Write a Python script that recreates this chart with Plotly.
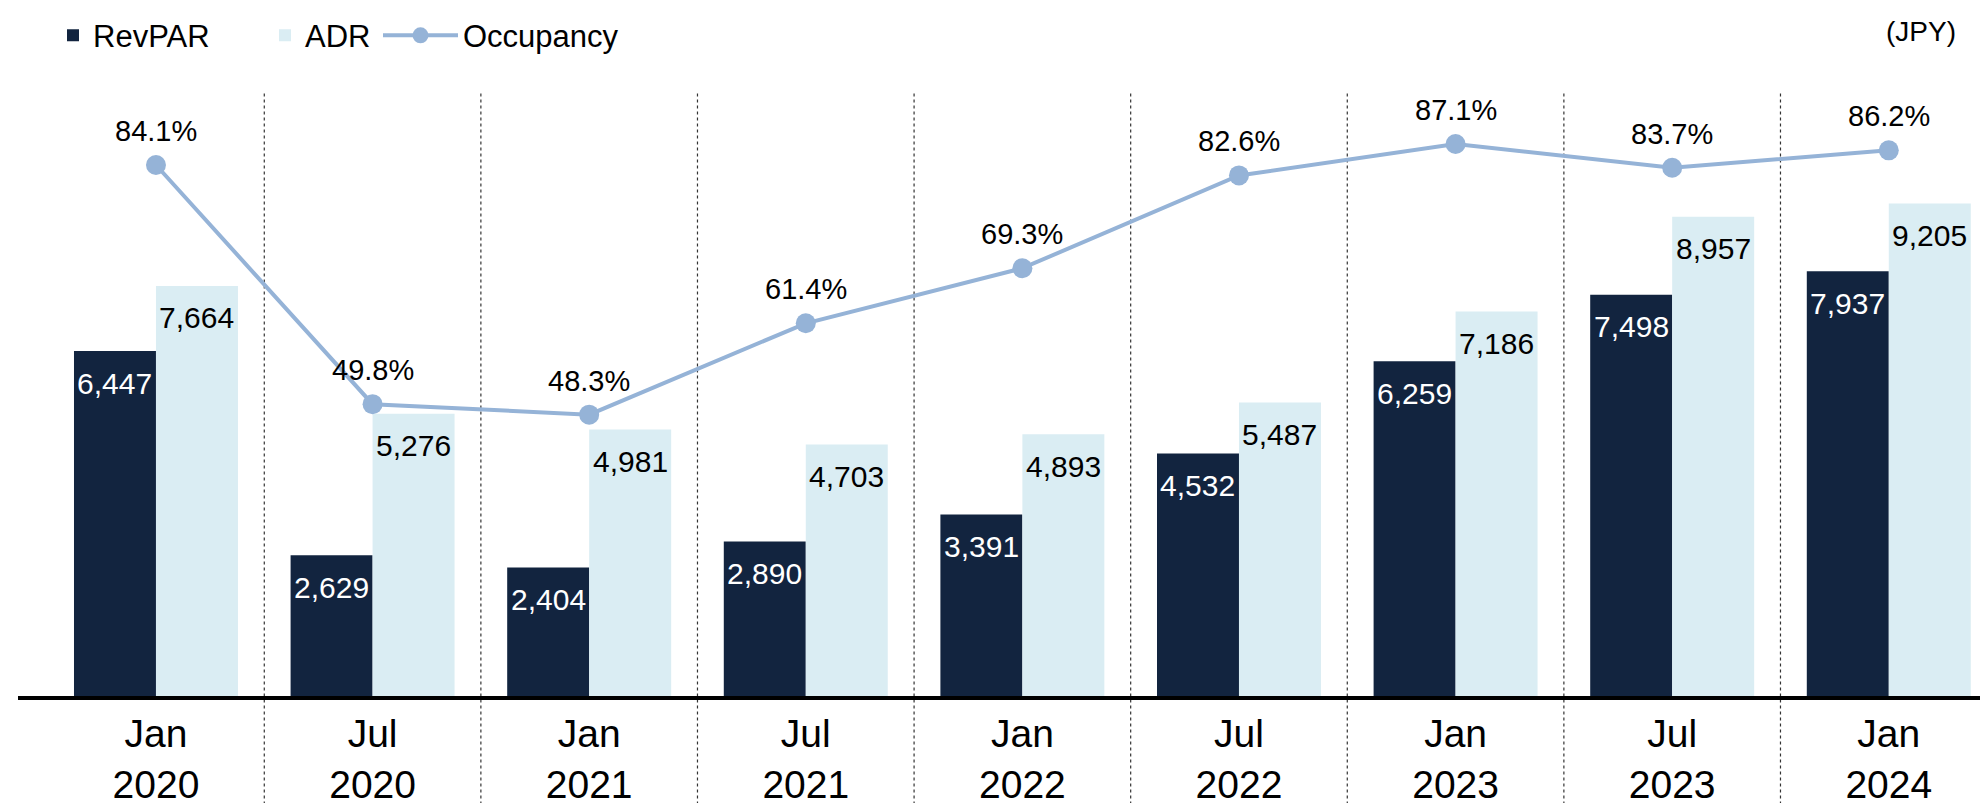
import plotly.graph_objects as go

categories = ["Jan<br>2020", "Jul<br>2020", "Jan<br>2021", "Jul<br>2021", "Jan<br>2022",
              "Jul<br>2022", "Jan<br>2023", "Jul<br>2023", "Jan<br>2024"]
revpar = [6447, 2629, 2404, 2890, 3391, 4532, 6259, 7498, 7937]
adr = [7664, 5276, 4981, 4703, 4893, 5487, 7186, 8957, 9205]
occupancy = [84.1, 49.8, 48.3, 61.4, 69.3, 82.6, 87.1, 83.7, 86.2]

FONT = "Liberation Sans, Arial, sans-serif"
C_REV = "#12243F"
C_ADR = "#DAEDF3"
C_OCC = "#95B3D7"

xs = list(range(len(categories)))
BARGAP = 0.243
BW = (1 - BARGAP) / 2

fig = go.Figure()
fig.add_trace(go.Bar(x=xs, y=revpar, name="RevPAR", legend="legend",
                     marker=dict(color=C_REV, line=dict(width=0))))
fig.add_trace(go.Bar(x=xs, y=adr, name="ADR", legend="legend2",
                     marker=dict(color=C_ADR, line=dict(width=0))))
fig.add_trace(go.Scatter(x=xs, y=occupancy, name="Occupancy", yaxis="y2", mode="lines+markers",
                         legend="legend3",
                         line=dict(color=C_OCC, width=4), marker=dict(color=C_OCC, size=20)))

annotations = []
for i, (r, a, o) in enumerate(zip(revpar, adr, occupancy)):
    annotations.append(dict(x=i - BW / 2, y=r, xref="x", yref="y", text=f"{r:,}", showarrow=False,
                            yshift=-32, yanchor="middle", font=dict(family=FONT, size=30, color="white")))
    annotations.append(dict(x=i + BW / 2, y=a, xref="x", yref="y", text=f"{a:,}", showarrow=False,
                            yshift=-32, yanchor="middle", font=dict(family=FONT, size=30, color="black")))
    annotations.append(dict(x=i, y=o, xref="x", yref="y2", text=f"{o:.1f}%", showarrow=False,
                            yshift=34, yanchor="middle", font=dict(family=FONT, size=29, color="black")))
annotations.append(dict(x=(1950 - 10) / 1978, y=1, xref="paper", yref="paper", text="(JPY)",
                        showarrow=False, xanchor="right", yanchor="middle", yshift=62,
                        font=dict(family=FONT, size=28, color="black")))

shapes = []
for i in range(len(categories) - 1):
    shapes.append(dict(type="line", xref="x", yref="paper", x0=i + 0.5, x1=i + 0.5, y0=-0.2, y1=1.0,
                       line=dict(color="#333333", width=1.2, dash="dot"), layer="below"))

LEG_Y = 1.095
leg_common = dict(orientation="h", y=LEG_Y, yanchor="middle", xanchor="left",
                  font=dict(family=FONT, size=31, color="black"), bgcolor="rgba(0,0,0,0)")

fig.update_layout(
    width=1988, height=803,
    margin=dict(l=10, r=0, t=85, b=115),
    paper_bgcolor="white", plot_bgcolor="white",
    barmode="group", bargap=BARGAP, bargroupgap=0,
    font=dict(family=FONT, color="black"),
    showlegend=True,
    legend=dict(x=(45 - 10) / 1978, **leg_common),
    legend2=dict(x=(257 - 10) / 1978, **leg_common),
    legend3=dict(x=(370 - 10) / 1978, itemwidth=75, **leg_common),
    xaxis=dict(range=[-0.637, 8.495], tickvals=xs, ticktext=categories, showgrid=False, zeroline=False,
               showline=True, linecolor="black", linewidth=4, ticks="",
               tickfont=dict(family=FONT, size=39, color="black")),
    yaxis=dict(range=[0, 11271], visible=False, showgrid=False, zeroline=False),
    yaxis2=dict(range=[7.96, 94.42], overlaying="y", side="right", visible=False, showgrid=False),
    annotations=annotations,
    shapes=shapes,
)

fig.write_html("out.html")
